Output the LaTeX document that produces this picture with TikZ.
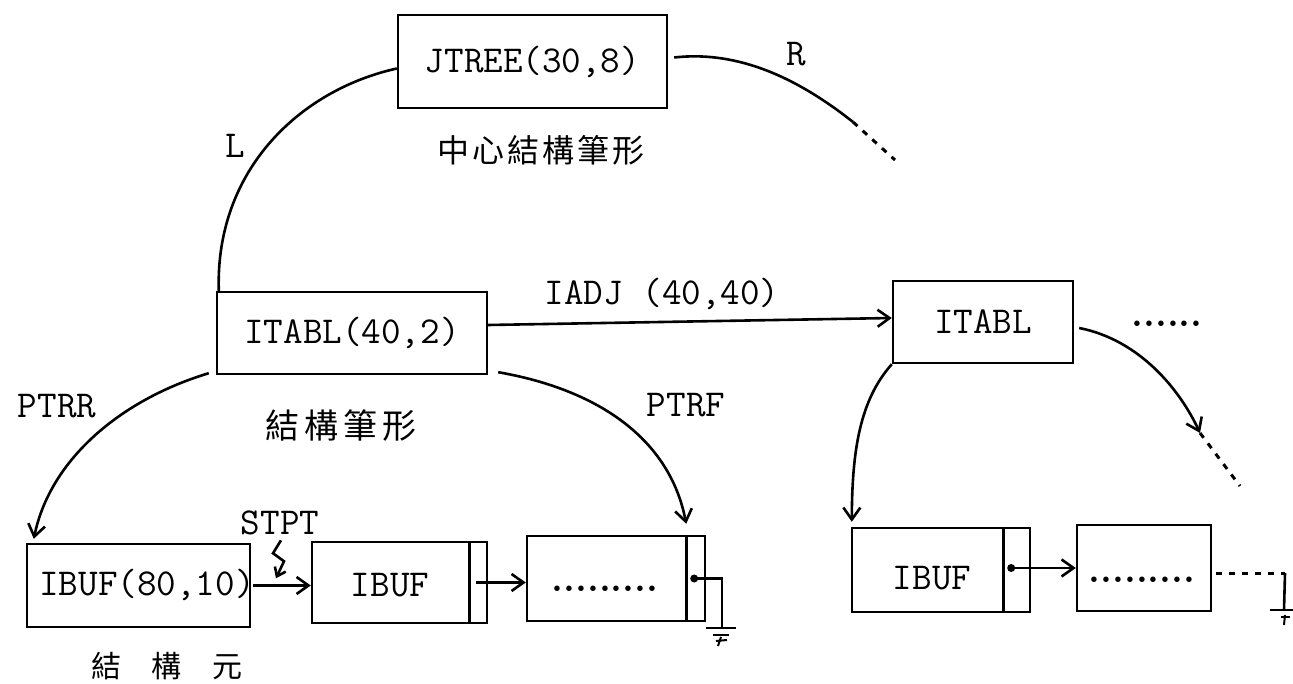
\documentclass[tikz,border=0pt]{standalone}
\usepackage{fontspec}
\newfontfamily\cjk{Noto Sans CJK TC}
\usetikzlibrary{arrows.meta,calc}
\begin{document}
\begin{tikzpicture}[x=1pt,y=-1pt,
  box/.style={draw, line width=2.4pt, inner sep=0pt},
  lbl/.style={font=\fontsize{38}{40}\selectfont\ttfamily, inner sep=0pt},
  cj/.style={font=\fontsize{32}{34}\selectfont\cjk, inner sep=0pt},
  ln/.style={line width=2.6pt},
  arr/.style={line width=2.6pt, -{Straight Barb[length=12pt,width=17pt]}},
  dsh/.style={line width=3pt, dash pattern=on 6pt off 7pt},
  dotsty/.style={font=\fontsize{38}{40}\selectfont\rmfamily\bfseries, inner sep=0pt, anchor=base}
]
\useasboundingbox (0,0) rectangle (1293,684);

% boxes
\node[box, lbl, minimum width=269pt, minimum height=93pt] (jtree) at (532.5,61.5) {JTREE(30,8)};
\node[box, lbl, minimum width=270pt, minimum height=82pt] (itabl1) at (352,333) {ITABL(40,2)};
\node[box, lbl, minimum width=180pt, minimum height=82pt] (itabl2) at (983,322) {ITABL};
\node[box, minimum width=223pt, minimum height=83pt] (ibuf1) at (138.5,585.5) {};
\node[lbl] (ibuf1t) at (147,585) {IBUF(80,10)};
\node[box, minimum width=175pt, minimum height=81pt] (ibuf2) at (399.5,582.5) {};
\node[lbl] (ibuf2t) at (390,585) {IBUF};
\node[box, minimum width=178pt, minimum height=85pt] (dots1) at (616,578.5) {};
\node[dotsty] (d1) at (605,591) {.........};
\node[box, minimum width=178pt, minimum height=84pt] (ibuf3) at (941,570) {};
\node[lbl] (ibuf3t) at (932,578) {IBUF};
\node[box, minimum width=134pt, minimum height=86pt] (dots2) at (1144,568) {};
\node[dotsty] (d2) at (1142,582) {.........};
\node[dotsty] (d3) at (1167,327) {......};

% dividers
\draw[ln] ($(ibuf2.north east)+(-19,0)$) -- ($(ibuf2.south east)+(-19,0)$);
\draw[ln] ($(dots1.north east)+(-20,0)$) -- ($(dots1.south east)+(-20,0)$);
\draw[ln] ($(ibuf3.north east)+(-28,0)$) -- ($(ibuf3.south east)+(-28,0)$);

% labels
\node[lbl] (Llbl) at (235,146) {L};
\node[lbl] (Rlbl) at (796,54) {R};
\node[cj] (c1) at (541,150) {中\hspace{3pt}心\hspace{3pt}結\hspace{3pt}構\hspace{3pt}筆\hspace{3pt}形};
\node[lbl] (iadj) at (662,294) {IADJ (40,40)};
\node[lbl] (ptrr) at (57,406) {PTRR};
\node[lbl] (ptrf) at (686,405) {PTRF};
\node[cj, font=\fontsize{34}{36}\selectfont\cjk] (c2) at (341,426) {結\hspace{5pt}構\hspace{5pt}筆\hspace{5pt}形};
\node[cj, font=\fontsize{30}{32}\selectfont\cjk] (c3) at (167,666) {結\hspace{31pt}構\hspace{31pt}元};
\node[lbl] (stpt) at (280,523) {STPT};

% tree connectors
\draw[ln] ($(jtree.west)+(0,7)$) .. controls (300,90) and (215,170) .. ($(itabl1.north west)+(3,0)$);
\coordinate (rmid) at (853,122);
\coordinate (rend) at (895,160);
\draw[ln] ($(jtree.east)+(6,-4)$) .. controls (740,50) and (800,80) .. (rmid);
\draw[dsh] (rmid) -- (rend);
\draw[arr] ($(itabl1.south west)+(-7,-2)$) .. controls (120,400) and (50,460) .. ($(ibuf1.north west)+(8,-4)$);
\draw[arr] ($(itabl1.south east)+(10,-3)$) .. controls (600,390) and (670,440) .. ($(dots1.north east)+(-20,-11)$);
\draw[arr] ($(itabl1.east)+(0,-8)$) -- ($(itabl2.west)+(0,-4)$);
\coordinate (ra) at (1200,433);
\coordinate (raend) at (1240,486);
\draw[arr] ($(itabl2.east)+(5,6)$) .. controls (1140,340) and (1180,390) .. (ra);
\draw[dsh] (ra) -- (raend);
\draw[arr] (itabl2.south west) .. controls (860,400) and (852,450) .. ($(ibuf3.north west)+(1,-5)$);

% list links
\draw[arr] ($(ibuf1.east)+(2,0)$) -- (ibuf2.west |- ibuf1.east);
\draw[arr, -{Straight Barb[length=8pt,width=12pt]}] ($(stpt.south)+(1,5)$) -- ++(-8,13) -- ++(11,8) -- ++(-8,17);
\draw[arr] ($(ibuf2.east)+(-12,0)$) -- (dots1.west |- ibuf2.east);

% ground 1
\coordinate (g1a) at ($(dots1.east)+(-12,0)$);
\coordinate (g1b) at (722,628);
\fill (g1a) circle (4pt);
\draw[ln] (g1a) -| (g1b);
\draw[ln] ($(g1b)+(-16,0)$) -- ($(g1b)+(14,0)$);
\draw[line width=2pt] ($(g1b)+(-9,7)$) -- ($(g1b)+(7,7)$);
\draw[line width=2pt] ($(g1b)+(-6,13)$) -- ($(g1b)+(5,12)$);
\draw[line width=2pt] ($(g1b)+(-1,9)$) -- ($(g1b)+(-4,18)$);

% right list
\coordinate (p3) at ($(ibuf3.east)+(-20,-2)$);
\fill (p3) circle (4pt);
\draw[arr] (p3) -- (dots2.west);
\coordinate (g2a) at (1285,573);
\coordinate (g2b) at (1284,610);
\draw[dsh] ($(dots2.east)+(4,5)$) -- (g2a);
\draw[ln] (g2a) -- (g2b);
\draw[ln] ($(g2b)+(-14,0)$) -- ($(g2b)+(9,0)$);
\draw[line width=2pt] ($(g2b)+(-3,7)$) -- ($(g2b)+(6,7)$);
\draw[line width=2pt] ($(g2b)+(1,5)$) -- ($(g2b)+(0,15)$);
\end{tikzpicture}
\end{document}
